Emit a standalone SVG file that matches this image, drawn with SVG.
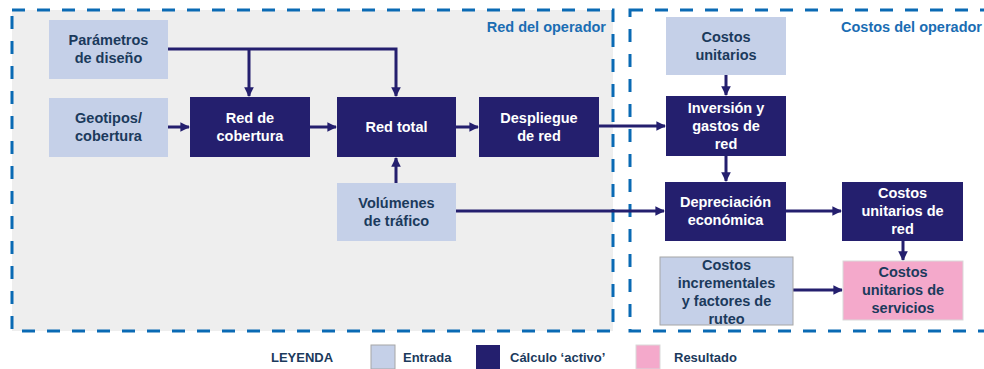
<svg xmlns="http://www.w3.org/2000/svg" width="984" height="369" viewBox="0 0 984 369">
<style>
.inp{fill:#C5D0E8}
.act{fill:#241F6E}
.res{fill:#F4A9CB;stroke:#D9D9D9;stroke-width:1}
.t{font-family:"Liberation Sans",Arial,sans-serif;font-weight:bold;font-size:14.5px;text-anchor:middle}
.ti{fill:#1B3A5C}
.ta{fill:#FFFFFF}
.pl{font-family:"Liberation Sans",Arial,sans-serif;font-weight:bold;font-size:14.5px;fill:#1A6DB3;text-anchor:end}
.lg{font-family:"Liberation Sans",Arial,sans-serif;font-weight:bold;font-size:13px;fill:#1B3A5C}
.panel{fill:none;stroke:#0A6AB4;stroke-width:3;stroke-dasharray:13 12}
.c{fill:none;stroke:#241F6E;stroke-width:3}
</style>
<defs>
<marker id="ah" viewBox="0 0 10 10" refX="9" refY="5" markerWidth="3.2" markerHeight="3.2" orient="auto" markerUnits="strokeWidth">
<path d="M0,0 L10,5 L0,10 Z" fill="#241F6E"/>
</marker>
</defs>
<rect width="984" height="369" fill="#FFFFFF"/>
<g id="panel-red">
<rect x="12" y="10" width="601" height="321" fill="#EEEEEE"/>
<rect x="12" y="10" width="601" height="321" class="panel"/>
<text x="606" y="32" class="pl">Red del operador</text>
</g>
<g id="panel-costos">
<rect x="630" y="10" width="370" height="321" class="panel"/>
<text x="982" y="32" class="pl">Costos del operador</text>
</g>
<g id="connectors">
<polyline class="c" points="168,49 396,49 396,96" marker-end="url(#ah)"/>
<polyline class="c" points="249,49 249,96" marker-end="url(#ah)"/>
<line class="c" x1="168" y1="127" x2="189" y2="127" marker-end="url(#ah)"/>
<line class="c" x1="310" y1="127" x2="336" y2="127" marker-end="url(#ah)"/>
<line class="c" x1="456" y1="127" x2="478" y2="127" marker-end="url(#ah)"/>
<line class="c" x1="599" y1="126" x2="665" y2="126" marker-end="url(#ah)"/>
<line class="c" x1="396" y1="183" x2="396" y2="158" marker-end="url(#ah)"/>
<line class="c" x1="456" y1="211" x2="664" y2="211" marker-end="url(#ah)"/>
<line class="c" x1="726" y1="75" x2="726" y2="95" marker-end="url(#ah)"/>
<line class="c" x1="726" y1="156" x2="726" y2="181" marker-end="url(#ah)"/>
<line class="c" x1="786" y1="211" x2="841" y2="211" marker-end="url(#ah)"/>
<line class="c" x1="903" y1="241" x2="903" y2="260" marker-end="url(#ah)"/>
<line class="c" x1="793" y1="290" x2="842" y2="290" marker-end="url(#ah)"/>
</g>
<g id="parametros">
<rect x="49" y="20" width="119" height="59" class="inp"/>
<text class="t ti" x="108.5" y="45">Parámetros</text>
<text class="t ti" x="108.5" y="63">de diseño</text>
</g>
<g id="geotipos">
<rect x="49" y="98" width="119" height="59" class="inp"/>
<text class="t ti" x="108.5" y="123">Geotipos/</text>
<text class="t ti" x="108.5" y="141">cobertura</text>
</g>
<g id="red-cobertura">
<rect x="190" y="97" width="120" height="60" class="act"/>
<text class="t ta" x="250" y="123">Red de</text>
<text class="t ta" x="250" y="141">cobertura</text>
</g>
<g id="red-total">
<rect x="337" y="97" width="119" height="60" class="act"/>
<text class="t ta" x="396.5" y="132">Red total</text>
</g>
<g id="despliegue">
<rect x="479" y="97" width="120" height="60" class="act"/>
<text class="t ta" x="539" y="123">Despliegue</text>
<text class="t ta" x="539" y="141">de red</text>
</g>
<g id="volumenes">
<rect x="337" y="183" width="119" height="58" class="inp"/>
<text class="t ti" x="396.5" y="208">Volúmenes</text>
<text class="t ti" x="396.5" y="226">de tráfico</text>
</g>
<g id="costos-unitarios">
<rect x="666" y="17" width="120" height="58" class="inp"/>
<text class="t ti" x="726" y="42">Costos</text>
<text class="t ti" x="726" y="60">unitarios</text>
</g>
<g id="inversion">
<rect x="666" y="96" width="120" height="60" class="act"/>
<text class="t ta" x="726" y="113">Inversión y</text>
<text class="t ta" x="726" y="131">gastos de</text>
<text class="t ta" x="726" y="149">red</text>
</g>
<g id="depreciacion">
<rect x="665" y="182" width="121" height="59" class="act"/>
<text class="t ta" x="725.5" y="207">Depreciación</text>
<text class="t ta" x="725.5" y="225">económica</text>
</g>
<g id="costos-unitarios-red">
<rect x="842" y="182" width="121" height="59" class="act"/>
<text class="t ta" x="902.5" y="198">Costos</text>
<text class="t ta" x="902.5" y="216">unitarios de</text>
<text class="t ta" x="902.5" y="234">red</text>
</g>
<g id="costos-incrementales">
<rect x="660" y="257" width="133" height="68" class="inp" stroke="#A6A6A6" stroke-width="1"/>
<text class="t ti" x="726.5" y="270">Costos</text>
<text class="t ti" x="726.5" y="288">incrementales</text>
<text class="t ti" x="726.5" y="306">y factores de</text>
<text class="t ti" x="726.5" y="324">ruteo</text>
</g>
<g id="costos-servicios">
<rect x="843" y="261" width="120" height="59" class="res"/>
<text class="t ti" x="903" y="277">Costos</text>
<text class="t ti" x="903" y="295">unitarios de</text>
<text class="t ti" x="903" y="313">servicios</text>
</g>
<g id="legend">
<text class="lg" x="271" y="362">LEYENDA</text>
<rect x="371" y="345" width="24" height="24" class="inp" stroke="#A6A6A6" stroke-width="1"/>
<text class="lg" x="403" y="362">Entrada</text>
<rect x="476" y="345" width="24" height="24" class="act"/>
<text class="lg" x="510" y="362">Cálculo ‘activo’</text>
<rect x="636" y="345" width="24" height="24" class="res"/>
<text class="lg" x="674" y="362">Resultado</text>
</g>
</svg>
